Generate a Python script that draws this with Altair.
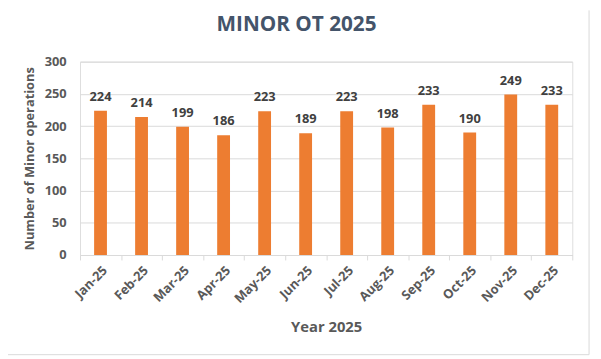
import altair as alt
import pandas as pd

months = ["Jan-25", "Feb-25", "Mar-25", "Apr-25", "May-25", "Jun-25",
          "Jul-25", "Aug-25", "Sep-25", "Oct-25", "Nov-25", "Dec-25"]
operations = [224, 214, 199, 186, 223, 189, 223, 198, 233, 190, 249, 233]
y_ticks = [0, 50, 100, 150, 200, 250, 300]

df = pd.DataFrame({"month": months, "ops": operations})

FONT = "Open Sans"

x_enc = alt.X("month:N", sort=months, title="Year 2025",
              scale=alt.Scale(paddingInner=0, paddingOuter=0),
              axis=alt.Axis(labelAngle=-45, labelFontSize=13, labelFont=FONT,
                            labelFontWeight="bold", labelColor="#595959",
                            domainColor="#D9D9D9", tickColor="#D9D9D9",
                            tickBand="extent", tickSize=5, labelPadding=4,
                            titleFont=FONT, titleFontSize=15, titleFontWeight="bold",
                            titleColor="#595959", titlePadding=14))
y_enc = alt.Y("ops:Q", title="Number of Minor operations",
              scale=alt.Scale(domain=[0, 300], nice=False),
              axis=alt.Axis(values=y_ticks, domain=False, ticks=False, tickSize=0,
                            labelOverlap=False,
                            labelPadding=14, labelFontSize=13, labelFont=FONT,
                            labelFontWeight="bold", labelColor="#595959",
                            gridColor="#D9D9D9", titleFont=FONT, titleFontSize=13,
                            titleFontWeight="bold", titleColor="#595959",
                            titlePadding=8))

base = alt.Chart(df)
bars = base.mark_bar(size=13, color="#ED7D31").encode(x=x_enc, y=y_enc)
labels = base.mark_text(baseline="bottom", dy=-7, font=FONT, fontSize=13,
                        fontWeight="bold", color="#404040").encode(
    x=x_enc, y=y_enc, text="ops:Q")

border_r = alt.Chart(pd.DataFrame({"a": [0]})).mark_rule(color="#D9D9D9").encode(
    x=alt.value(516), y=alt.value(-52), y2=alt.value(297))
border_b = alt.Chart(pd.DataFrame({"a": [0]})).mark_rule(color="#D9D9D9").encode(
    x=alt.value(-73), x2=alt.value(516), y=alt.value(297))

chart = alt.layer(bars, labels, border_r, border_b).properties(
    width=499, height=196,
    title=alt.TitleParams("MINOR OT 2025", font=FONT, fontSize=21, fontWeight="bold",
                          color="#44546A", anchor="middle", dx=-30, offset=0, dy=25,
                          frame="group"),
    autosize=alt.AutoSizeParams(type="none"),
    padding={"left": 73, "top": 52, "right": 21, "bottom": 103},
).configure_view(stroke=None).configure(background="white")

chart.save("out.html", embed_options={"renderer": "svg", "actions": False})
